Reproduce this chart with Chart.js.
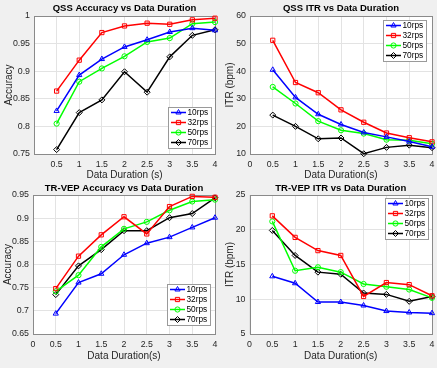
<!DOCTYPE html>
<html><head><meta charset="utf-8">
<script src="https://cdn.jsdelivr.net/npm/chart.js@4/dist/chart.umd.min.js"></script>
<style>
html,body{margin:0;padding:0;background:#f0f0f0;}
body{width:437px;height:368px;position:relative;overflow:hidden;}
canvas{position:absolute;}
</style></head><body>
<canvas id="c1" width="220" height="183" style="left:0;top:0"></canvas>
<canvas id="c2" width="219" height="183" style="left:218px;top:0"></canvas>
<canvas id="c3" width="220" height="185" style="left:0;top:183px"></canvas>
<canvas id="c4" width="219" height="185" style="left:218px;top:183px"></canvas>
<script>
// ---- data ----
const durations = [0.5, 1, 1.5, 2, 2.5, 3, 3.5, 4];
const seriesNames = ['10rps', '32rps', '50rps', '70rps'];

const qssAcc10 = [0.828, 0.893, 0.922, 0.944, 0.957, 0.971, 0.978, 0.974];
const qssAcc32 = [0.864, 0.920, 0.970, 0.982, 0.987, 0.985, 0.993, 0.996];
const qssAcc50 = [0.805, 0.881, 0.905, 0.927, 0.953, 0.960, 0.986, 0.989];
const qssAcc70 = [0.758, 0.825, 0.848, 0.899, 0.862, 0.926, 0.965, 0.975];

const qssItr10 = [40.5, 30.5, 24.4, 20.7, 17.8, 16.2, 14.5, 12.6];
const qssItr32 = [51.2, 35.9, 32.2, 26.0, 21.5, 17.6, 15.9, 14.4];
const qssItr50 = [34.3, 28.3, 21.9, 18.6, 17.4, 15.2, 15.0, 13.7];
const qssItr70 = [24.1, 20.0, 15.5, 15.8, 10.1, 12.4, 13.2, 12.3];

const trAcc10 = [0.694, 0.761, 0.780, 0.821, 0.846, 0.859, 0.880, 0.901];
const trAcc32 = [0.748, 0.818, 0.864, 0.903, 0.866, 0.925, 0.947, 0.945];
const trAcc50 = [0.742, 0.777, 0.838, 0.877, 0.892, 0.917, 0.936, 0.940];
const trAcc70 = [0.735, 0.797, 0.832, 0.873, 0.873, 0.901, 0.910, 0.944];

const trItr10 = [13.3, 12.3, 9.6, 9.6, 9.1, 8.3, 8.1, 8.0];
const trItr32 = [22.0, 18.9, 17.0, 16.3, 10.4, 12.4, 12.1, 10.5];
const trItr50 = [21.2, 14.1, 14.6, 13.9, 12.2, 11.8, 11.4, 10.2];
const trItr70 = [19.9, 16.3, 13.9, 13.6, 10.9, 10.7, 9.7, 10.4];

const xTicksNoZero = [0.5, 1, 1.5, 2, 2.5, 3, 3.5, 4];
const xTicksWithZero = [0, 0.5, 1, 1.5, 2, 2.5, 3, 3.5, 4];
const qssAccYTicks = [0.75, 0.8, 0.85, 0.9, 0.95, 1];
const qssItrYTicks = [10, 20, 30, 40, 50, 60];
const trAccYTicks = [0.65, 0.7, 0.75, 0.8, 0.85, 0.9, 0.95];
const trItrYTicks = [5, 10, 15, 20, 25];

// ---- styles ----
const FONT = '"Liberation Sans", Arial, sans-serif';
const colors = ['#0000ff', '#ff0000', '#00ff00', '#000000'];
const pointStyles = ['triangle', 'rect', 'circle', 'rectRot'];
const pointRadii = [3, 3, 2.6, 3];

const framePlugin = {
  id: 'frame',
  beforeDraw(chart) {
    const {ctx, chartArea: a} = chart;
    ctx.save();
    ctx.fillStyle = '#ffffff';
    ctx.fillRect(a.left, a.top, a.right - a.left, a.bottom - a.top);
    ctx.restore();
  },
  beforeDatasetsDraw(chart) {
    const {ctx, chartArea: a} = chart;
    ctx.save();
    ctx.strokeStyle = '#8a8a8a';
    ctx.lineWidth = 1;
    ctx.strokeRect(Math.round(a.left) + 0.5, Math.round(a.top) + 0.5,
      Math.round(a.right) - Math.round(a.left), Math.round(a.bottom) - Math.round(a.top));
    ctx.restore();
  },
  afterDraw(chart, args, opts) {
    const {ctx, chartArea: a} = chart;
    ctx.save();
    ctx.font = 'bold 9.5px ' + FONT;
    ctx.fillStyle = '#000';
    ctx.textAlign = 'center';
    ctx.textBaseline = 'middle';
    ctx.fillText(opts.title, (a.left + a.right) / 2, opts.titleY);
    // legend
    const w = 43, h = 41;
    const lx = Math.round(a.right - opts.legRight - w);
    const ly = opts.legPos === 'se' ? Math.round(a.bottom - opts.legOff - h) : Math.round(a.top + opts.legOff);
    ctx.fillStyle = '#fff';
    ctx.fillRect(lx, ly, w, h);
    ctx.strokeStyle = '#9a9a9a';
    ctx.lineWidth = 1;
    ctx.strokeRect(lx + 0.5, ly + 0.5, w, h);
    chart.data.datasets.forEach((ds, i) => {
      const y = ly + 5.5 + i * 10;
      ctx.strokeStyle = ds.borderColor;
      ctx.lineWidth = 1.5;
      ctx.beginPath();
      ctx.moveTo(lx + 3, y);
      ctx.lineTo(lx + 18, y);
      ctx.stroke();
      ctx.lineWidth = 1;
      ctx.fillStyle = 'rgba(0,0,0,0)';
      Chart.helpers.drawPoint(ctx, {pointStyle: ds.pointStyle, radius: ds.pointRadius, rotation: 0, borderWidth: 1}, lx + 10.5, y);
      ctx.fillStyle = '#000';
      ctx.font = '8.3px ' + FONT;
      ctx.textAlign = 'left';
      ctx.textBaseline = 'middle';
      ctx.fillText(ds.label, lx + 19.5, y + 0.5);
    });
    ctx.restore();
  }
};

function makeChart(id, cfg) {
  const canvas = document.getElementById(id);
  const W = canvas.width, H = canvas.height;
  const tickFont = {family: FONT, size: 8.8};
  const labelFont = {family: FONT, size: 10};
  return new Chart(canvas, {
    type: 'line',
    data: {
      datasets: cfg.series.map((vals, i) => ({
        label: seriesNames[i],
        data: durations.map((x, j) => ({x: x, y: vals[j]})),
        borderColor: colors[i],
        backgroundColor: colors[i],
        pointBackgroundColor: 'rgba(0,0,0,0)',
        pointBorderColor: colors[i],
        pointStyle: pointStyles[i],
        pointRadius: pointRadii[i],
        pointBorderWidth: 1,
        borderWidth: 1.5,
        tension: 0,
        clip: false,
        fill: false
      }))
    },
    options: {
      responsive: false,
      animation: false,
      devicePixelRatio: 1,
      events: [],
      layout: {padding: {left: 0, top: cfg.area.top, right: W - cfg.area.right, bottom: 0}},
      plugins: {
        legend: {display: false},
        tooltip: {enabled: false},
        frame: {title: cfg.title, titleY: cfg.titleY, legPos: cfg.legPos, legRight: cfg.legRight, legOff: cfg.legOff}
      },
      scales: {
        x: {
          type: 'linear', min: 0, max: 4,
          afterBuildTicks: s => { s.ticks = cfg.xTicks.map(v => ({value: v})); },
          afterFit: s => { s.height = H - cfg.area.bottom; s.paddingLeft = 0; s.paddingRight = 0; },
          ticks: {font: tickFont, color: '#262626', padding: 5.5, maxRotation: 0, autoSkip: false,
                  callback: v => String(v)},
          grid: {color: '#e3e3e3', drawTicks: false},
          border: {display: false},
          title: {display: true, text: cfg.xLabel, font: labelFont, color: '#262626',
                  padding: {top: 0, bottom: cfg.xTitlePad}}
        },
        y: {
          type: 'linear', min: cfg.yTicks[0], max: cfg.yTicks[cfg.yTicks.length - 1],
          afterBuildTicks: s => { s.ticks = cfg.yTicks.map(v => ({value: v})); },
          afterFit: s => { s.width = cfg.area.left; s.paddingTop = 0; s.paddingBottom = 0; },
          ticks: {font: tickFont, color: '#262626', padding: 4, callback: v => String(v)},
          grid: {color: '#e3e3e3', drawTicks: false},
          border: {display: false},
          title: {display: true, text: cfg.yLabel, font: labelFont, color: '#262626',
                  padding: {top: cfg.yTitlePad, bottom: 0}}
        }
      }
    },
    plugins: [framePlugin]
  });
}

makeChart('c1', {
  series: [qssAcc10, qssAcc32, qssAcc50, qssAcc70],
  xTicks: xTicksNoZero, yTicks: qssAccYTicks,
  title: 'QSS Accuracy vs Data Duration', titleY: 8.5,
  xLabel: 'Data Duration (s)', yLabel: 'Accuracy',
  area: {left: 34, right: 216.5, top: 16, bottom: 154},
  xTitlePad: 1.5, yTitlePad: 3.5,
  legPos: 'se', legRight: 4, legOff: 6
});
makeChart('c2', {
  series: [qssItr10, qssItr32, qssItr50, qssItr70],
  xTicks: xTicksWithZero, yTicks: qssItrYTicks,
  title: 'QSS ITR vs Data Duration', titleY: 8.5,
  xLabel: 'Data Duration(s)', yLabel: 'ITR (bpm)',
  area: {left: 32, right: 216, top: 16, bottom: 154},
  xTitlePad: 1.5, yTitlePad: 6,
  legPos: 'ne', legRight: 6, legOff: 4
});
makeChart('c3', {
  series: [trAcc10, trAcc32, trAcc50, trAcc70],
  xTicks: xTicksWithZero, yTicks: trAccYTicks,
  title: 'TR-VEP Accuracy vs Data Duration', titleY: 5,
  xLabel: 'Data Duration(s)', yLabel: 'Accuracy',
  area: {left: 33, right: 217, top: 12, bottom: 151},
  xTitlePad: 6, yTitlePad: 2,
  legPos: 'se', legRight: 5, legOff: 9
});
makeChart('c4', {
  series: [trItr10, trItr32, trItr50, trItr70],
  xTicks: xTicksWithZero, yTicks: trItrYTicks,
  title: 'TR-VEP ITR vs Data Duration', titleY: 5,
  xLabel: 'Data Duration(s)', yLabel: 'ITR (bpm)',
  area: {left: 31.5, right: 216, top: 12, bottom: 151},
  xTitlePad: 6, yTitlePad: 6.5,
  legPos: 'ne', legRight: 4, legOff: 3
});
</script>
</body></html>
